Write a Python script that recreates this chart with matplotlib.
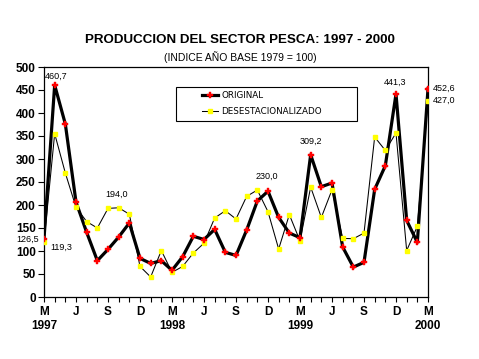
import matplotlib
matplotlib.use("Agg")
import matplotlib.pyplot as plt
from matplotlib.lines import Line2D
from matplotlib.patches import Rectangle
import numpy as np

# ---- data (monthly, March 1997 - March 2000) ----
original = [126.5, 460.7, 376.0, 206.5, 140.5, 79.0, 103.5, 130.4, 160.8, 84.0,
            73.0, 79.0, 58.0, 87.6, 132.0, 125.0, 147.0, 97.0, 90.4, 145.6,
            208.7, 230.0, 173.0, 139.0, 129.0, 309.2, 239.8, 247.8, 108.7, 65.0,
            75.4, 234.0, 285.4, 441.3, 166.5, 118.7, 452.6]
desestacionalizado = [119.3, 355.0, 269.6, 195.0, 164.0, 150.0, 192.6, 194.0, 180.0, 66.5,
                      43.5, 101.0, 53.5, 66.5, 95.6, 117.0, 171.7, 187.6, 169.6, 218.7,
                      232.6, 185.4, 104.3, 179.0, 122.0, 239.0, 173.0, 233.0, 127.4, 126.7,
                      139.0, 347.8, 318.7, 356.5, 101.0, 153.5, 427.0]
tick_labels = ["M\n1997", "J", "S", "D", "M\n1998", "J", "S", "D",
               "M\n1999", "J", "S", "D", "M\n2000"]
yticks = [0, 50, 100, 150, 200, 250, 300, 350, 400, 450, 500]

# labelled points: (series, index)
labels_orig = [0, 1, 21, 25, 33, 36]
labels_des = [0, 7, 36]

FONT = "Liberation Sans"

fig = plt.figure(figsize=(4.79, 3.59), dpi=100)
W, H = 479, 359
ax = fig.add_axes([44 / W, 1 - 297 / H, (428 - 44) / W, (297 - 67) / H])

x = np.arange(len(original))
ax.plot(x, desestacionalizado, color="black", lw=0.75, zorder=2)
ax.plot(x, original, color="black", lw=2.3, zorder=3)
ax.plot(x, desestacionalizado, ls="none", marker="s", ms=3.2,
        mfc="#ffff00", mec="#ffff00", zorder=4)
ax.plot(x, original, ls="none", marker="P", ms=4.0,
        mfc="#ff0000", mec="#ff0000", mew=0.3, zorder=5)

ax.set_xlim(0, len(original) - 1)
ax.set_ylim(0, 500)
ax.set_yticks(yticks)
ax.set_yticklabels([str(v) for v in yticks], fontfamily=FONT,
                   fontweight="bold", fontsize=8.5)
ax.set_xticks(np.arange(0, len(original), 3))
ax.set_xticklabels(tick_labels, fontfamily=FONT, fontweight="bold",
                   fontsize=8.5, linespacing=1.25, va="top")
ax.set_xticks(np.arange(len(original)), minor=True)
ax.tick_params(axis="x", which="both", direction="out", length=3.5,
               width=0.8, pad=3)
ax.tick_params(axis="y", direction="out", length=4, width=0.8, pad=2)
for s in ax.spines.values():
    s.set_linewidth(0.9)


def fmt(v):
    return f"{v:.1f}".replace(".", ",")


ann_kw = dict(textcoords="offset pixels", fontsize=6.5, fontfamily=FONT,
              va="center", zorder=6)
offs_o = {0: (-16, -1, "center"), 1: (1, 9, "center"), 21: (-1, 15, "center"),
          25: (0, 13, "center"), 33: (-1, 12, "center"), 36: (5, 0, "left")}
offs_d = {0: (6, -5, "left"), 7: (-2, 13, "center"), 36: (5, 0, "left")}
for i in labels_orig:
    dx, dy, ha = offs_o[i]
    ax.annotate(fmt(original[i]), (x[i], original[i]), xytext=(dx, dy),
                ha=ha, **ann_kw)
for i in labels_des:
    dx, dy, ha = offs_d[i]
    ax.annotate(fmt(desestacionalizado[i]), (x[i], desestacionalizado[i]),
                xytext=(dx, dy), ha=ha, **ann_kw)

# titles
fig.text(240 / W, 1 - 40 / H, "PRODUCCION DEL SECTOR PESCA: 1997 - 2000",
         ha="center", va="center", fontfamily=FONT, fontweight="bold",
         fontsize=9.6)
fig.text(240 / W, 1 - 57 / H, "(INDICE AÑO BASE 1979 = 100)",
         ha="center", va="center", fontfamily=FONT, fontsize=7.5)

# legend (manual, figure pixel coords)
def fx(px):
    return px / W


def fy(py):
    return 1 - py / H


fig.patches.append(Rectangle((fx(176), fy(121)), fx(357) - fx(176),
                             fy(87) - fy(121), transform=fig.transFigure,
                             fill=True, facecolor="white", edgecolor="black",
                             lw=0.8, zorder=10))
fig.lines.append(Line2D([fx(202), fx(218)], [fy(95), fy(95)], color="black",
                        lw=2.3, transform=fig.transFigure, zorder=11))
fig.lines.append(Line2D([fx(210)], [fy(95)], ls="none", marker="P", ms=4.0,
                        mfc="#ff0000", mec="#ff0000", mew=0.3,
                        transform=fig.transFigure, zorder=12))
fig.lines.append(Line2D([fx(202), fx(218)], [fy(111), fy(111)], color="black",
                        lw=0.75, transform=fig.transFigure, zorder=11))
fig.lines.append(Line2D([fx(210)], [fy(111)], ls="none", marker="s", ms=3.2,
                        mfc="#ffff00", mec="#ffff00",
                        transform=fig.transFigure, zorder=12))
fig.text(fx(221), fy(95), "ORIGINAL", ha="left", va="center",
         fontfamily="DejaVu Sans", fontsize=6.3, zorder=13)
fig.text(fx(221), fy(111), "DESESTACIONALIZADO", ha="left", va="center",
         fontfamily="DejaVu Sans", fontsize=6.3, zorder=13)

fig.savefig("out.png", dpi=100)
